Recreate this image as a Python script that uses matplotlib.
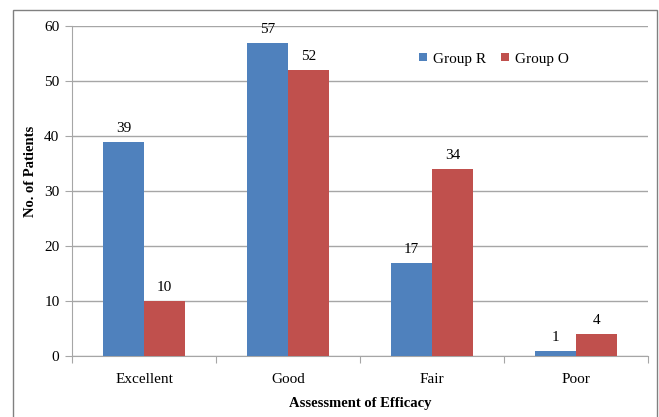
import numpy as np
import matplotlib.pyplot as plt
from matplotlib.patches import Rectangle

plt.rcParams['font.family'] = ['Liberation Serif', 'DejaVu Serif']

categories = ['Excellent', 'Good', 'Fair', 'Poor']
group_r = [39, 57, 17, 1]
group_o = [10, 52, 34, 4]
series_names = ['Group R', 'Group O']
y_ticks = [0, 10, 20, 30, 40, 50, 60]

blue = '#4F81BD'
red = '#C0504D'
grid_col = '#A6A6A6'

fig = plt.figure(figsize=(6.59, 4.17), dpi=100)
ax = fig.add_axes([72 / 659, 61 / 417, 576 / 659, 330 / 417])

# outer frame around the chart
fig.patches.append(Rectangle((13 / 659, -0.05), 644 / 659, 1.05 - 10 / 417,
                             transform=fig.transFigure, fill=False,
                             edgecolor='#808080', linewidth=1.0))

x = np.arange(len(categories)) + 0.5
w = 0.285
b1 = ax.bar(x - w / 2, group_r, w, color=blue, label=series_names[0], zorder=3)
b2 = ax.bar(x + w / 2, group_o, w, color=red, label=series_names[1], zorder=3)

for bars, vals in ((b1, group_r), (b2, group_o)):
    for rect, v in zip(bars, vals):
        ax.text(rect.get_x() + rect.get_width() / 2, v + 1.2, str(v),
                ha='center', va='bottom', fontsize=11)

ax.set_xlim(0, len(categories))
ax.set_ylim(0, 60)
ax.set_yticks(y_ticks)
ax.tick_params(axis='y', labelsize=11, color=grid_col, length=5, pad=4)
ax.set_xticks(np.arange(len(categories) + 1))
ax.set_xticklabels([])
ax.set_xticks(x, minor=True)
ax.set_xticklabels(categories, minor=True, fontsize=11)
ax.tick_params(axis='x', which='major', color=grid_col, length=5)
ax.tick_params(axis='x', which='minor', length=0, pad=12)

ax.yaxis.grid(True, color=grid_col, linewidth=1.0, zorder=0)
ax.set_axisbelow(True)
for s in ('top', 'right'):
    ax.spines[s].set_visible(False)
for s in ('left', 'bottom'):
    ax.spines[s].set_color(grid_col)

ax.set_ylabel('No. of Patients', fontsize=10.5, fontweight='bold')
ax.yaxis.set_label_coords(-0.061, 0.558)
ax.set_xlabel('Assessment of Efficacy', fontsize=10.5, fontweight='bold', labelpad=8)

ax.legend(loc='center', bbox_to_anchor=(0.733, 0.9), ncol=2, frameon=False,
          fontsize=11, handlelength=0.5, handleheight=0.5, handletextpad=0.4,
          columnspacing=1.0)

fig.savefig('out.png', dpi=100)
